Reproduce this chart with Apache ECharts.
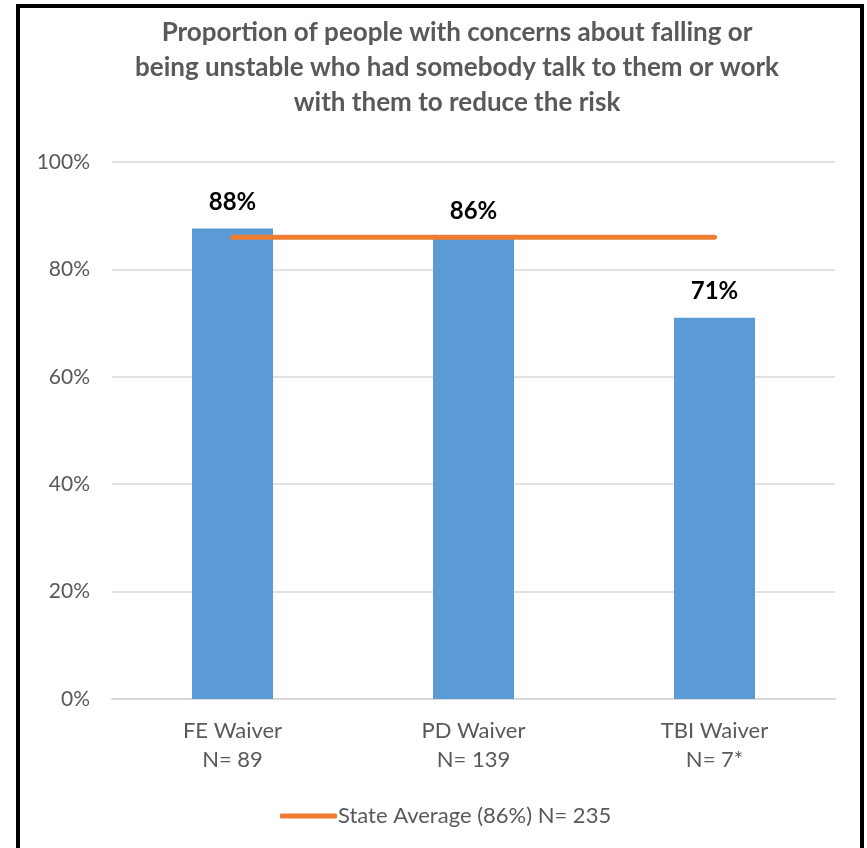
<!DOCTYPE html>
<html>
<head>
<meta charset="utf-8">
<script src="https://cdn.jsdelivr.net/npm/echarts@6/dist/echarts.min.js"></script>
<style>
  html, body { margin: 0; padding: 0; background: #fff; }
  #chart { position: absolute; left: 0; top: 0; width: 867px; height: 848px; }
  #frame { position: absolute; left: 16px; top: 4px; width: 848px; height: 900px; box-sizing: border-box;
           border: 4px solid #000; border-bottom: none; pointer-events: none; }
</style>
</head>
<body>
<div id="chart"></div>
<div id="frame"></div>
<script>
var titleText = 'Proportion of people with concerns about falling or\nbeing unstable who had somebody talk to them or work\nwith them to reduce the risk';
var categoryNames = ['FE Waiver', 'PD Waiver', 'TBI Waiver'];
var sampleSizes = ['N= 89', 'N= 139', 'N= 7*'];
var values = [87.6, 86, 71];
var stateAverage = [86, 86, 86];
var stateAverageName = 'State Average (86%) N= 235';
var yTicks = [0, 20, 40, 60, 80, 100];

var FONT = 'Lato, "Open Sans", sans-serif';
var categories = categoryNames.map(function (n, i) { return n + '\n' + sampleSizes[i]; });

var chart = echarts.init(document.getElementById('chart'), null, { renderer: 'canvas' });
chart.setOption({
  animation: false,
  backgroundColor: '#ffffff',
  title: {
    text: titleText,
    left: 457,
    top: 15,
    padding: 0,
    textAlign: 'center',
    textStyle: { fontFamily: FONT, fontSize: 26, fontWeight: 'bold', color: '#595959', lineHeight: 35 }
  },
  grid: { left: 112, right: 32, top: 162, bottom: 149, containLabel: false },
  legend: {
    left: 275, top: 800,
    data: [{ name: stateAverageName, icon: 'roundRect' }],
    itemWidth: 57, itemHeight: 5, itemGap: 4,
    textStyle: { fontFamily: FONT, fontSize: 22, color: '#595959', padding: [0, 0, 0, -4] }
  },
  xAxis: {
    type: 'category',
    data: categories,
    axisTick: { show: false },
    axisLine: { lineStyle: { color: '#d9d9d9', width: 2 } },
    axisLabel: { fontFamily: FONT, fontSize: 22, color: '#595959', lineHeight: 29, margin: 17 }
  },
  yAxis: {
    type: 'value',
    min: yTicks[0], max: yTicks[yTicks.length - 1], interval: 20,
    axisLine: { show: false },
    axisTick: { show: false },
    splitLine: { lineStyle: { color: '#d9d9d9', width: 1.5 } },
    axisLabel: { fontFamily: FONT, fontSize: 21, color: '#595959', margin: 22, formatter: '{value}%' }
  },
  series: [
    {
      name: 'Value',
      type: 'bar',
      data: values,
      barWidth: 81,
      itemStyle: { color: '#5B9BD5' },
      z: 2,
      label: {
        show: true, position: 'top', distance: 10,
        formatter: function (p) { return Math.round(p.value) + '%'; },
        fontFamily: FONT, fontSize: 24, fontWeight: 'bold', color: '#000',
        backgroundColor: '#fff', padding: [4, 8]
      }
    },
    {
      name: stateAverageName,
      type: 'line',
      data: stateAverage,
      symbol: 'none',
      z: 3,
      lineStyle: { color: '#ED7D31', width: 5, cap: 'round' },
      itemStyle: { color: '#ED7D31' }
    }
  ]
});
</script>
</body>
</html>
